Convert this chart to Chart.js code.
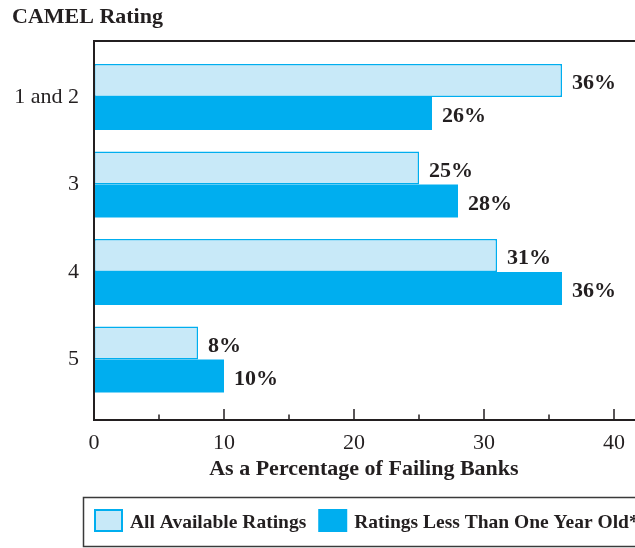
<!DOCTYPE html>
<html>
<head>
<meta charset="utf-8">
<script src="https://cdn.jsdelivr.net/npm/chart.js@4.4.0/dist/chart.umd.min.js"></script>
<style>
  html, body { margin: 0; padding: 0; background: #fff; }
</style>
</head>
<body>
<canvas id="chart" width="635" height="548"></canvas>
<script>
const categories = ['1 and 2', '3', '4', '5'];
const allRatings = [36, 25, 31, 8];
const recentRatings = [26, 28, 36, 10];
const seriesNames = ['All Available Ratings', 'Ratings Less Than One Year Old*'];
const xTicks = [0, 10, 20, 30, 40];
const xMinorTicks = [5, 15, 25, 35];

const INK = '#231f20';
const CYAN = '#00aeef';
const PALE = '#c8e9f8';
const SERIF = '"Liberation Serif", "Times New Roman", serif';

// box frame: top rule, left and bottom axes, ticks pointing up into the plot
const frame = {
    id: 'frame',
    afterDatasetsDraw(chart) {
        const { ctx, chartArea: a, scales: { x } } = chart;
        ctx.save();
        ctx.strokeStyle = INK;
        ctx.lineWidth = 2;
        ctx.beginPath();
        ctx.moveTo(a.left, a.top + 1);
        ctx.lineTo(chart.width, a.top + 1);
        ctx.moveTo(a.left, a.top);
        ctx.lineTo(a.left, a.bottom + 1);
        ctx.moveTo(a.left - 1, a.bottom);
        ctx.lineTo(chart.width, a.bottom);
        ctx.stroke();

        ctx.lineWidth = 1.5;
        ctx.beginPath();
        xTicks.concat(xMinorTicks).forEach(v => {
            if (v === 0) return;
            const px = x.getPixelForValue(v);
            const len = xTicks.includes(v) ? 11 : 5.5;
            ctx.moveTo(px, a.bottom);
            ctx.lineTo(px, a.bottom - len);
        });
        ctx.stroke();
        ctx.restore();
    }
};

// "36%" style labels at the end of each bar
const valueLabels = {
    id: 'valueLabels',
    afterDatasetsDraw(chart) {
        const ctx = chart.ctx;
        ctx.save();
        ctx.font = 'bold 22px ' + SERIF;
        ctx.fillStyle = INK;
        ctx.textBaseline = 'middle';
        chart.data.datasets.forEach((ds, di) => {
            chart.getDatasetMeta(di).data.forEach((bar, i) => {
                ctx.fillText(ds.data[i].x + '%', bar.x + 10, bar.y + 3);
            });
        });
        ctx.restore();
    }
};

// boxed legend along the bottom, running off the right edge
const boxLegend = {
    id: 'boxLegend',
    afterDraw(chart) {
        const ctx = chart.ctx;
        ctx.save();
        ctx.strokeStyle = '#3a3a3a';
        ctx.lineWidth = 1.5;
        ctx.strokeRect(83.5, 497.5, chart.width, 49);
        ctx.font = 'bold 19.5px ' + SERIF;
        ctx.textBaseline = 'middle';
        let x0 = 94;
        chart.data.datasets.forEach(ds => {
            ctx.fillStyle = ds.backgroundColor;
            ctx.fillRect(x0, 509, 29, 23);
            if (ds.borderWidth) {
                ctx.strokeStyle = ds.borderColor;
                ctx.lineWidth = 2;
                ctx.strokeRect(x0 + 1, 510, 27, 21);
            }
            ctx.fillStyle = INK;
            ctx.fillText(ds.label, x0 + 36, 523);
            x0 += 36 + ctx.measureText(ds.label).width + 12;
        });
        ctx.restore();
    }
};

new Chart(document.getElementById('chart'), {
    type: 'bar',
    data: {
        datasets: [
            {
                label: seriesNames[0],
                data: allRatings.map((v, i) => ({ x: v, y: i })),
                backgroundColor: PALE,
                borderColor: CYAN,
                borderWidth: 1.5,
                borderSkipped: false
            },
            {
                label: seriesNames[1],
                data: recentRatings.map((v, i) => ({ x: v, y: i })),
                backgroundColor: CYAN,
                borderWidth: 0
            }
        ]
    },
    options: {
        indexAxis: 'y',
        responsive: false,
        animation: false,
        layout: { padding: { left: 12, right: 0, top: 0, bottom: 64 } },
        datasets: { bar: { categoryPercentage: 0.755, barPercentage: 1 } },
        plugins: {
            legend: { display: false },
            tooltip: { enabled: false },
            title: {
                display: true,
                text: 'CAMEL Rating',
                align: 'start',
                color: INK,
                font: { family: SERIF, size: 22, weight: 'bold', lineHeight: 1.2 },
                padding: { top: 4, bottom: 9.6 }
            }
        },
        scales: {
            x: {
                type: 'linear',
                min: 0,
                max: 41.53,
                grid: { display: false, drawTicks: false },
                border: { display: false },
                afterBuildTicks: s => { s.ticks = xTicks.map(v => ({ value: v })); },
                afterFit: s => { s.height = 64; },
                ticks: { autoSkip: false, padding: 10, color: INK, font: { family: SERIF, size: 22 } },
                title: {
                    display: true,
                    text: 'As a Percentage of Failing Banks',
                    color: INK,
                    font: { family: SERIF, size: 22, weight: 'bold' },
                    padding: { top: 0, bottom: 1 }
                }
            },
            y: {
                type: 'linear',
                reverse: true,
                offset: false,
                min: -0.651,
                max: 3.691,
                grid: { display: false, drawTicks: false, offset: false },
                border: { display: false },
                afterBuildTicks: s => { s.ticks = categories.map((c, i) => ({ value: i })); },
                afterFit: s => { s.width = 82; },
                ticks: {
                    padding: 15,
                    color: INK,
                    font: { family: SERIF, size: 22 },
                    callback: v => categories[v]
                }
            }
        }
    },
    plugins: [frame, valueLabels, boxLegend]
});
</script>
</body>
</html>
